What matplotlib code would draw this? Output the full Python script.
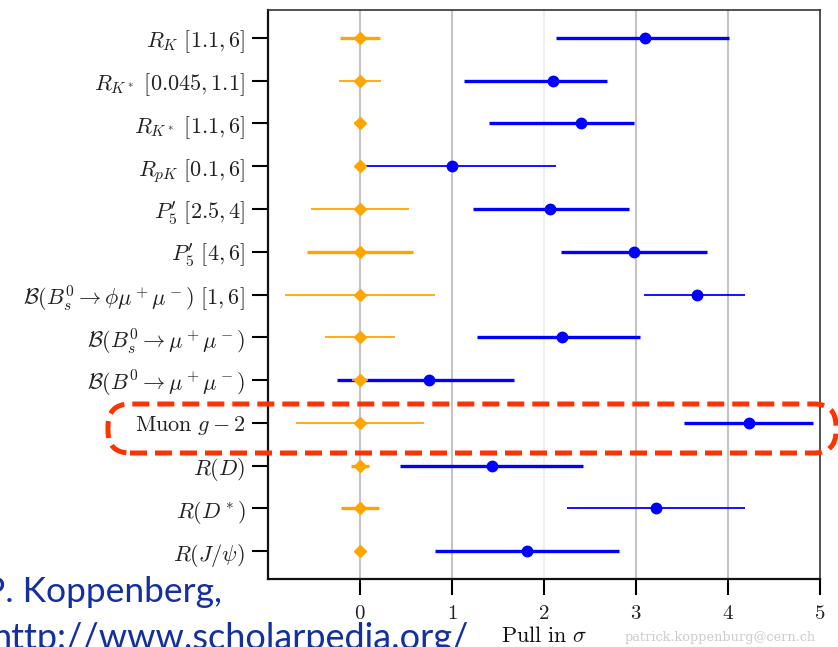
import matplotlib
matplotlib.use("Agg")
import matplotlib.pyplot as plt
import matplotlib.transforms as mtransforms
from matplotlib.patches import FancyBboxPatch

plt.rcParams['mathtext.fontset'] = 'cm'

labels = [
    r'$R_K\ [1.1,6]$',
    r'$R_{K^*}\ [0.045,1.1]$',
    r'$R_{K^*}\ [1.1,6]$',
    r'$R_{pK}\ [0.1,6]$',
    r"$P_5'\ [2.5,4]$",
    r"$P_5'\ [4,6]$",
    r'$\mathcal{B}(B_s^0\to\phi\mu^+\mu^-)\ [1,6]$',
    r'$\mathcal{B}(B_s^0\to\mu^+\mu^-)$',
    r'$\mathcal{B}(B^0\to\mu^+\mu^-)$',
    r'$\mathrm{Muon}\ g-2$',
    r'$R(D)$',
    r'$R(D^*)$',
    r'$R(J/\psi)$',
]

# measured pulls (blue) with low / high error-bar ends
pull = [3.10, 2.10, 2.40, 1.00, 2.07, 2.98, 3.66, 2.20, 0.75, 4.23, 1.43, 3.22, 1.82]
pull_lo = [2.13, 1.13, 1.40, 0.05, 1.23, 2.18, 3.09, 1.27, -0.25, 3.52, 0.43, 2.25, 0.82]
pull_hi = [4.01, 2.69, 2.98, 2.13, 2.92, 3.77, 4.19, 3.04, 1.67, 4.92, 2.42, 4.19, 2.81]

# SM prediction (orange) at zero with its uncertainty
sm = [0, 0, 0, 0, 0, 0, 0, 0, 0, 0, 0, 0, 0]
sm_err = [0.22, 0.23, 0.06, 0.03, 0.53, 0.58, 0.82, 0.38, 0.09, 0.70, 0.10, 0.21, 0.0]

xticks = [0, 1, 2, 3, 4, 5]

blue_thick = [True, True, True, False, True, True, False, True, True, True, True, False, True]
orange_thick = [True, False, False, False, False, True, False, False, False, False, True, True, True]
gray_ticks = [0, 3, 8]

W, H = 838, 647
fig = plt.figure(figsize=(W / 100, H / 100), dpi=100)
ax = fig.add_axes([268 / W, 1 - 579 / H, (820 - 268) / W, (579 - 10) / H])

ys = list(range(len(labels)))

# grid lines
for xv in [0, 1, 3, 4]:
    ax.axvline(xv, color='#c4c4c4', lw=1.5, zorder=0)
ax.axvline(2, color='#efefef', lw=1.5, zorder=0)

for i, y in enumerate(ys):
    lw = 2.4 if blue_thick[i] else 1.3
    ax.errorbar([pull[i]], [y], xerr=[[pull[i] - pull_lo[i]], [pull_hi[i] - pull[i]]],
                fmt='o', color='#0000ff', ms=7.5, elinewidth=lw, capsize=0, zorder=3)
for i, y in enumerate(ys):
    lw = 2.4 if orange_thick[i] else 1.3
    ax.errorbar([sm[i]], [y], xerr=[[sm_err[i]], [sm_err[i]]],
                fmt='D', color='#ffa500', ms=6.5, elinewidth=lw, capsize=0, zorder=4)

ax.set_xlim(-1, 5)
ax.set_ylim(len(labels) - 1 + 0.65, -0.65)
ax.set_yticks(ys)
ax.set_yticklabels(labels, fontsize=16, color='#222222')
ax.set_xticks(xticks)
ax.set_xticklabels([f'${t}$' for t in xticks], fontsize=15, color='#222222')
ax.tick_params(axis='both', direction='out', length=11.5, width=1.5, pad=5)
ax.tick_params(axis='x', pad=6)
for i in gray_ticks:
    ax.yaxis.get_major_ticks()[i].tick1line.set_color('#c8c8c8')

for side in ['left', 'bottom']:
    ax.spines[side].set_linewidth(1.6)
    ax.spines[side].set_color('#111111')
for side in ['top', 'right']:
    ax.spines[side].set_linewidth(1.2)
    ax.spines[side].set_color('#333333')

ax.set_xlabel(r'$\mathrm{Pull\ in}\ \sigma$', fontsize=16, labelpad=2, color='#111111')

fig.text(625 / W, 1 - 637 / H, 'patrick.koppenburg@cern.ch', fontsize=9.3,
         family='DejaVu Serif', color='#cccccc', va='center', ha='left')

# red dashed highlight box (display pixels)
box = FancyBboxPatch((108, H - 453), 728, 49,
                     boxstyle='round,pad=0,rounding_size=22',
                     transform=mtransforms.IdentityTransform(),
                     fill=False, edgecolor='#ff3300', lw=3.6,
                     linestyle=(0, (3.4, 1.6)), zorder=10)
fig.add_artist(box)

fig.text(-16 / W, 1 - 602 / H, 'P. Koppenberg,', fontsize=25.5, family='Lato',
         color='#1430a0', va='baseline', ha='left')
fig.text(-9 / W, 1 - 649 / H, 'http://www.scholarpedia.org/', fontsize=26, family='Lato',
         color='#1430a0', va='baseline', ha='left')

fig.savefig('out.png', dpi=100)
